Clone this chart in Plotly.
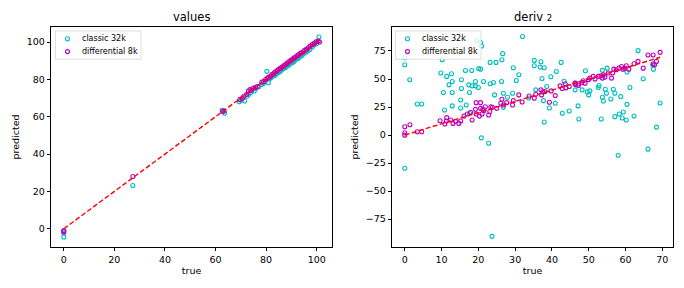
import plotly.graph_objects as go

# ---------------- data: "values" panel ----------------
val_classic_true = [0, 0, 0, 27.3, 62.6, 63.0, 63.6, 69.4, 70.1, 70.8, 71.5, 72.4, 73.2, 73.8, 74.5,
                    75.3, 76.0, 77.1, 78.2, 78.9, 79.6, 80.3, 80.9, 81.4, 82.0, 82.6, 83.1, 83.7, 84.2,
                    84.8, 85.3, 85.9, 86.4, 87.0, 87.6, 88.1, 88.7, 89.2, 89.8, 90.3, 90.9, 91.4, 92.0,
                    92.6, 93.1, 93.7, 94.3, 95.0, 95.8, 96.5, 97.3, 98.2, 99.1, 100.0, 100.9]
val_classic_pred = [-4.4, -2.3, -1.2, 23.2, 63.5, 62.8, 61.9, 68.0, 68.8, 70.2, 68.4, 71.0, 72.1, 72.9,
                    74.4, 73.8, 75.2, 76.1, 77.3, 77.8, 78.9, 84.3, 78.2, 80.3, 81.0, 81.8, 82.0, 82.4,
                    83.3, 83.6, 84.1, 84.7, 85.4, 86.0, 86.2, 87.1, 87.5, 88.0, 88.6, 89.1, 89.5, 90.3,
                    90.9, 91.2, 91.8, 92.5, 93.0, 94.0, 94.6, 95.3, 96.0, 97.3, 98.5, 99.2, 102.7]
val_diff_true = [0, 0, 27.3, 62.8, 63.4, 69.6, 70.5, 71.2, 72.3, 73.0, 73.6, 74.2, 75.0, 75.8, 76.5,
                 78.3, 79.0, 79.8, 80.4, 81.0, 81.6, 82.2, 82.8, 83.3, 83.9, 84.5, 85.0, 85.6, 86.1,
                 86.7, 87.2, 87.8, 88.3, 88.9, 89.4, 90.0, 90.5, 91.1, 91.7, 92.2, 92.8, 93.4, 94.0,
                 94.6, 95.2, 95.9, 96.6, 97.4, 98.2, 99.0, 99.8, 100.6, 101.1]
val_diff_pred = [-1.0, -1.6, 28.0, 62.9, 63.2, 69.2, 69.8, 71.0, 72.0, 73.8, 74.5, 74.2, 75.4, 75.6,
                 76.2, 78.6, 78.8, 79.9, 80.6, 81.3, 81.4, 82.6, 82.9, 83.6, 84.2, 84.8, 85.4, 85.9,
                 86.5, 86.9, 87.6, 88.1, 88.6, 89.3, 89.8, 90.3, 90.9, 91.5, 92.0, 92.6, 93.2, 93.8,
                 94.3, 94.8, 95.6, 96.1, 96.9, 97.8, 98.6, 99.3, 100.1, 100.5, 100.0]

# ---------------- data: "deriv 2" panel ----------------
der_classic_true = [0, 0, 0, 1.35, 3.4, 4.6, 9.8, 10.2, 10.5, 10.8, 11.4, 12.0, 12.7, 12.9, 12.9, 12.9,
                    15.2, 15.2, 15.4, 15.4, 16.5, 16.7, 17.4, 17.6, 17.6, 18.2, 18.3, 19.2, 19.2, 19.5,
                    20.0, 20.1, 20.6, 20.6, 20.8, 20.9, 21.4, 22.8, 23.2, 23.2, 23.7, 24.1, 24.4, 24.8,
                    26.3, 26.4, 26.6, 26.8, 26.8, 27.9, 29.3, 29.5, 30.3, 31.0, 32.0, 33.7, 35.2, 35.2,
                    35.6, 36.8, 37.0, 37.3, 37.7, 37.9, 37.9, 38.6, 39.3, 39.7, 40.9, 41.2, 42.5, 42.8,
                    43.3, 44.7, 46.3, 46.4, 47.1, 47.3, 48.2, 49.1, 49.6, 50.0, 50.3, 52.6, 52.8, 53.4,
                    53.7, 53.7, 54.0, 54.5, 54.8, 55.0, 56.0, 56.7, 57.1, 57.1, 58.0, 58.3, 58.7, 59.1,
                    59.4, 60.2, 60.4, 60.4, 61.2, 62.3, 63.4, 64.8, 66.1, 67.4, 67.6, 68.4, 69.4]
der_classic_pred = [69.0, 62.7, -29.7, 49.3, 27.7, 27.7, 55.3, 67.2, 37.9, 22.4, 52.3, 44.8, 54.7, 47.8,
                    37.9, 26.0, 31.3, 24.1, 49.3, 41.5, 57.6, 26.8, 44.8, 37.9, 19.4, 57.6, 43.9, 47.8,
                    43.9, 84.3, 42.4, 59.4, 58.8, 82.5, -2.5, 79.5, 47.8, -7.3, 64.8, 45.7, -90.4, 46.9,
                    35.8, 64.8, 47.8, 67.2, 72.6, 37.3, 24.7, 33.7, 37.3, 60.0, 48.7, 53.8, 87.9, 33.1,
                    66.6, 61.8, 40.3, 60.6, 65.4, 50.5, 30.7, 60.0, 11.6, 43.3, 24.1, 52.0, 28.3, 56.7,
                    64.8, 19.4, 48.0, 21.5, 40.3, 46.3, 26.0, 14.3, 40.3, 57.4, 38.5, 35.8, 39.4, 42.4,
                    44.2, 14.3, 57.7, 33.7, 30.4, 40.9, 37.3, 59.7, 32.2, 40.9, 37.3, 16.4, -18.0, 18.8,
                    34.3, 15.2, 20.6, 13.4, 56.2, 27.4, 42.4, 17.0, 75.3, 50.2, -12.6, 62.4, 58.8, 7.1,
                    28.6]
der_diff_true = [0, 0, 0, 1.4, 3.4, 4.6, 9.6, 10.9, 11.3, 11.4, 12.5, 13.1, 13.8, 14.7, 15.2, 16.1, 17.0,
                 17.9, 18.3, 19.2, 19.4, 19.4, 20.3, 20.6, 20.6, 21.0, 21.2, 21.5, 21.9, 22.8, 23.1, 23.4,
                 23.8, 25.0, 26.1, 26.4, 26.8, 27.7, 29.3, 29.5, 31.0, 31.9, 33.8, 35.2, 35.6, 37.0, 37.2,
                 37.5, 38.1, 39.3, 39.8, 40.9, 42.2, 42.8, 43.6, 43.8, 44.7, 46.25, 46.4, 47.2, 47.3,
                 48.1, 48.5, 49.0, 49.9, 50.3, 51.2, 51.7, 52.6, 53.3, 53.7, 54.0, 54.4, 55.3, 56.2,
                 56.5, 56.8, 57.5, 58.2, 58.9, 59.3, 59.8, 60.2, 60.9, 62.3, 63.4, 64.8, 66.1, 67.5,
                 67.5, 67.9, 68.4, 69.4]
der_diff_pred = [7.4, 2.0, -0.1, 9.2, 2.9, 2.9, 12.8, 9.8, 12.5, 15.5, 13.4, 10.4, 12.2, 10.4, 12.5, 16.9,
                 18.8, 20.3, 13.4, 22.9, 18.8, 28.9, 16.9, 28.9, 23.8, 18.8, 22.9, 21.8, 25.3, 17.9, 20.9,
                 25.3, 24.7, 23.8, 28.3, 31.9, 26.8, 28.9, 26.8, 30.7, 35.8, 29.5, 34.9, 32.8, 36.4, 40.3,
                 35.8, 38.5, 38.8, 29.2, 39.4, 35.2, 43.9, 41.5, 45.7, 42.1, 43.3, 46.3, 45.1, 44.2, 45.7,
                 46.9, 48.4, 46.3, 49.3, 50.8, 52.3, 49.9, 52.3, 52.9, 50.8, 53.8, 51.7, 55.3, 50.8,
                 55.3, 58.8, 58.2, 59.7, 61.2, 58.8, 59.7, 61.8, 58.8, 63.6, 65.7, 59.7, 71.4, 71.4,
                 63.6, 62.7, 65.7, 73.8]

panel_titles = ["values", "deriv <span style='font-size:8.5px'>2</span>"]
series_names = ["classic 32k", "differential 8k"]
x_label = "true"
y_label = "predicted"

CYAN = "rgb(0,191,191)"
MAGENTA = "rgb(191,0,191)"
FONT = "DejaVu Sans"

W, H = 684, 288
OFF = 8  # page body margin offset


def px(sx):
    return (sx - OFF) / W


def py(sy):
    return (H - (sy - OFF)) / H


fig = go.Figure()

panels = [
    (val_classic_true, val_classic_pred, val_diff_true, val_diff_pred, "x", "y"),
    (der_classic_true, der_classic_pred, der_diff_true, der_diff_pred, "x2", "y2"),
]
for ct, cp, dt, dp, xa, ya in panels:
    fig.add_trace(go.Scatter(x=ct, y=cp, mode="markers", name=series_names[0], xaxis=xa, yaxis=ya,
                             showlegend=False,
                             marker=dict(symbol="circle-open", size=4, color=CYAN,
                                         line=dict(width=1.1, color=CYAN))))
    fig.add_trace(go.Scatter(x=dt, y=dp, mode="markers", name=series_names[1], xaxis=xa, yaxis=ya,
                             showlegend=False,
                             marker=dict(symbol="circle-open", size=4, color=MAGENTA,
                                         line=dict(width=1.1, color=MAGENTA))))
    lo = min(dt)
    hi = max(dt)
    fig.add_trace(go.Scatter(x=[lo, hi], y=[lo, hi], mode="lines", xaxis=xa, yaxis=ya, showlegend=False,
                             line=dict(color="red", width=1.4, dash="5px,2.3px")))

axis_common = dict(showline=True, mirror=True, linecolor="black", linewidth=0.8, ticks="outside",
                   ticklen=3.3, tickwidth=0.8, tickcolor="black", showgrid=False, zeroline=False,
                   tickfont=dict(family=FONT, size=9.5, color="black"),
                   title_font=dict(family=FONT, size=9.5, color="black"))

xd1 = [px(51), px(332)]
xd2 = [px(392), px(673)]
yd = [py(247), py(27)]

shapes = []
annotations = []

# titles
for title, xd in zip(panel_titles, [xd1, xd2]):
    annotations.append(dict(text=title, x=(xd[0] + xd[1]) / 2, y=py(17), xref="paper", yref="paper",
                            showarrow=False, font=dict(family=FONT, size=11.5, color="black"),
                            yanchor="middle", xanchor="center"))

# legends (drawn as box + glyph + text)
colors = [CYAN, MAGENTA]
for bx in [55.5, 395.5]:
    shapes.append(dict(type="rect", xref="paper", yref="paper", x0=px(bx), x1=px(bx + 85.5),
                       y0=py(59.3), y1=py(31), line=dict(color="#d6d6d6", width=0.8),
                       fillcolor="rgba(255,255,255,0.8)", layer="above"))
    for i, (name, col) in enumerate(zip(series_names, colors)):
        cy = 38.8 + 12.8 * i
        mx = bx + 12
        shapes.append(dict(type="circle", xref="paper", yref="paper",
                           x0=px(mx - 2), x1=px(mx + 2), y0=py(cy + 2), y1=py(cy - 2),
                           line=dict(color=col, width=1.1), fillcolor="white", layer="above"))
        annotations.append(dict(text=name, x=px(bx + 24.5), y=py(cy), xref="paper", yref="paper",
                                showarrow=False, xanchor="left", yanchor="middle",
                                font=dict(family=FONT, size=8, color="black")))

fig.update_layout(
    width=W, height=H, margin=dict(l=0, r=0, t=0, b=0),
    paper_bgcolor="white", plot_bgcolor="white", showlegend=False,
    xaxis=dict(domain=xd1, range=[-5.05, 106.05], tickvals=[0, 20, 40, 60, 80, 100],
               title=dict(text=x_label, standoff=3), anchor="y", **axis_common),
    yaxis=dict(domain=yd, range=[-9.75, 108.05], tickvals=[0, 20, 40, 60, 80, 100],
               title=dict(text=y_label, standoff=5), anchor="x", **axis_common),
    xaxis2=dict(domain=xd2, range=[-3.47, 72.9], tickvals=[0, 10, 20, 30, 40, 50, 60, 70],
                title=dict(text=x_label, standoff=3), anchor="y2", **axis_common),
    yaxis2=dict(domain=yd, range=[-99.9, 96.4], tickvals=[-100, -75, -50, -25, 0, 25, 50, 75],
                title=dict(text=y_label, standoff=5), anchor="x2", **axis_common),
    shapes=shapes,
    annotations=annotations,
)

fig.write_html("out.html")
